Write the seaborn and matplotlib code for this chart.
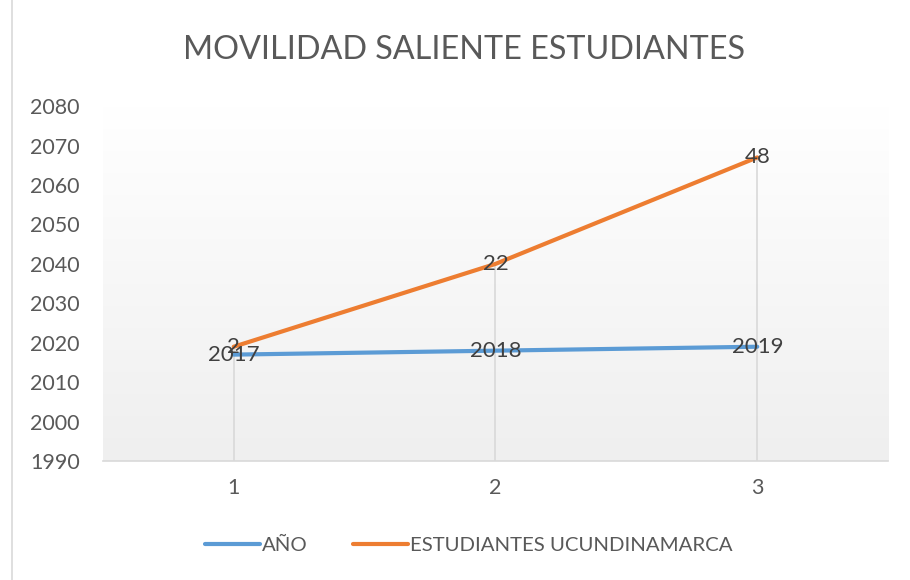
import numpy as np
import pandas as pd
import seaborn as sns
import matplotlib.pyplot as plt
from matplotlib.lines import Line2D

# Datos
categorias = [1, 2, 3]
anio = [2017, 2018, 2019]
estudiantes = [2, 22, 48]
y_ticks = [1990, 2000, 2010, 2020, 2030, 2040, 2050, 2060, 2070, 2080]

sns.set_style("white")
plt.rcParams['font.family'] = ['Lato', 'DejaVu Sans']

# linea apilada (como en Excel): la segunda serie se suma a la primera
df = pd.DataFrame({'x': categorias, 'AÑO': anio, 'ESTUDIANTES UCUNDINAMARCA': estudiantes})
df['apilado'] = df['AÑO'] + df['ESTUDIANTES UCUNDINAMARCA']

azul = '#5B9BD5'
naranja = '#ED7D31'
gris = '#595959'

fig = plt.figure(figsize=(9.1, 5.8), dpi=100)
ax = fig.add_axes([0.113, 0.205, 0.863, 0.612])

# fondo degradado del area de trazado
grad = np.linspace(0, 1, 256).reshape(-1, 1)
ax.imshow(grad, extent=[0.5, 3.5, 1990, 2080], aspect='auto', origin='lower',
          cmap=plt.matplotlib.colors.LinearSegmentedColormap.from_list('g', ['#efefef', '#ffffff']),
          zorder=0)

# lineas de caida
ax.vlines(df['x'], 1990, df['apilado'], color='#d9d9d9', lw=1.2, zorder=1)

sns.lineplot(data=df, x='x', y='AÑO', ax=ax, color=azul, lw=3, zorder=3,
             solid_capstyle='round')
sns.lineplot(data=df, x='x', y='apilado', ax=ax, color=naranja, lw=3, zorder=3,
             solid_capstyle='round')

# etiquetas de datos
for xv, yv, lab in zip(df['x'], df['AÑO'], df['AÑO']):
    ax.text(xv, yv, str(lab), ha='center', va='center', fontsize=16, color='#404040', zorder=4)
for xv, yv, lab in zip(df['x'], df['apilado'], df['ESTUDIANTES UCUNDINAMARCA']):
    ax.text(xv, yv, str(lab), ha='center', va='center', fontsize=16, color='#404040', zorder=4)

ax.set_xlim(0.5, 3.5)
ax.set_ylim(1990, 2080)
ax.set_xticks(categorias)
ax.set_yticks(y_ticks)
ax.tick_params(axis='both', length=0, labelsize=15.5, labelcolor=gris, pad=16.5)
ax.tick_params(axis='x', pad=12)
ax.set_xlabel('')
ax.set_ylabel('')
for s in ['top', 'right', 'left']:
    ax.spines[s].set_visible(False)
ax.spines['bottom'].set_color('#d9d9d9')
ax.spines['bottom'].set_linewidth(1.2)

fig.text(0.51, 0.913, 'MOVILIDAD SALIENTE ESTUDIANTES', ha='center', va='center',
         fontsize=23.3, color=gris)

handles = [Line2D([], [], color=azul, lw=3, solid_capstyle='round'),
           Line2D([], [], color=naranja, lw=3, solid_capstyle='round')]
fig.legend(handles, ['AÑO', 'ESTUDIANTES UCUNDINAMARCA'], loc='center',
           bbox_to_anchor=(0.515, 0.06), ncol=2, frameon=False, fontsize=14.7,
           labelcolor=gris, handlelength=2.7, handletextpad=0.1, columnspacing=2.2)

# borde izquierdo del grafico
fig.add_artist(Line2D([0.013, 0.013], [0, 1], color='#d9d9d9', lw=1.2,
                      transform=fig.transFigure))

fig.savefig('out.png', dpi=100)
